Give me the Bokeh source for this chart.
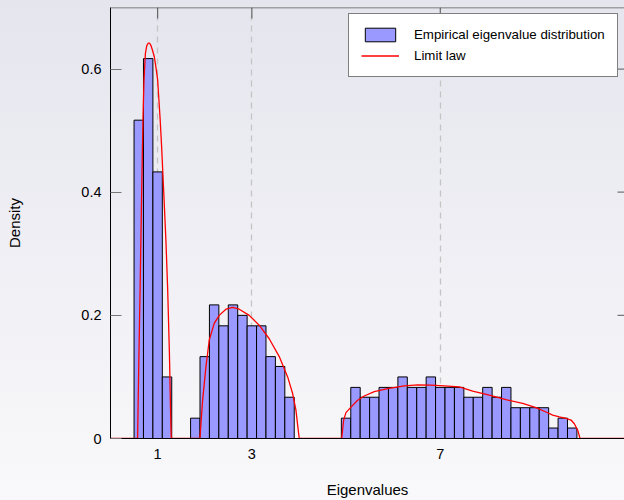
from bokeh.plotting import figure
from bokeh.models import FixedTicker, Legend, LegendItem, ColumnDataSource, Span
from bokeh.embed import file_html
from bokeh.resources import INLINE

# ---- data ----
BIN_WIDTH = 0.2
bar_left = [0.5, 0.7, 0.9, 1.1,
            1.7, 1.9, 2.1, 2.3, 2.5, 2.7, 2.9, 3.1, 3.3, 3.5, 3.7,
            4.9, 5.1, 5.3, 5.5, 5.7, 5.9, 6.1, 6.3, 6.5, 6.7, 6.9, 7.1, 7.3,
            7.5, 7.7, 7.9, 8.1, 8.3, 8.5, 8.7, 8.9, 9.1, 9.3, 9.5, 9.7]
bar_density = [0.517, 0.617, 0.433, 0.100,
               0.033, 0.133, 0.217, 0.183, 0.217, 0.200, 0.183, 0.183, 0.133, 0.117, 0.067,
               0.033, 0.083, 0.067, 0.067, 0.083, 0.083, 0.100, 0.083, 0.083, 0.100, 0.083, 0.083, 0.083,
               0.067, 0.067, 0.083, 0.067, 0.083, 0.050, 0.050, 0.050, 0.050, 0.017, 0.033, 0.017]

limit_x = [0.0,
           0.575, 0.60, 0.63, 0.655, 0.675, 0.69, 0.71, 0.74, 0.77, 0.80, 0.83, 0.86, 0.89,
           0.93, 0.97, 1.00, 1.055, 1.085, 1.13, 1.176, 1.212, 1.25, 1.282, 1.29,
           1.898, 1.92, 1.955, 2.025, 2.096, 2.202, 2.308, 2.45, 2.592, 2.732, 2.945, 3.157,
           3.369, 3.582, 3.76, 3.866, 3.936, 3.975, 4.006,
           4.907, 4.949, 4.998, 5.104, 5.246, 5.386, 5.599, 5.883, 6.236, 6.52, 6.803, 7.085,
           7.403, 7.688, 8.04, 8.395, 8.749, 9.032, 9.244, 9.386, 9.527, 9.669, 9.775, 9.845,
           9.917, 9.966,
           11.0]
limit_y = [0.0,
           0.0, 0.12, 0.25, 0.37, 0.46, 0.52, 0.58, 0.625, 0.638, 0.642, 0.642, 0.638, 0.631,
           0.62, 0.60, 0.583, 0.517, 0.474, 0.40, 0.322, 0.246, 0.14, 0.02, 0.0,
           0.0, 0.024, 0.062, 0.116, 0.16, 0.187, 0.2, 0.21, 0.213, 0.21, 0.2, 0.184,
           0.162, 0.133, 0.1, 0.073, 0.046, 0.02, 0.0,
           0.0, 0.03, 0.042, 0.051, 0.062, 0.069, 0.076, 0.081, 0.0855, 0.087, 0.0867, 0.0855,
           0.084, 0.077, 0.0705, 0.063, 0.057, 0.050, 0.043, 0.038, 0.035, 0.0325, 0.03, 0.024,
           0.0135, 0.0,
           0.0]

x_ticks = [1, 3, 7]
y_ticks = [0, 0.2, 0.4, 0.6]
y_tick_labels = ["0", "0.2", "0.4", "0.6"]

FONT = "Liberation Sans"

# ---- layout constants ----
W, H = 624, 500
BORDER_L, BORDER_R, BORDER_T, BORDER_B = 110, 0, 7, 62
X_MAX, Y_MAX = 10.91, 0.7
FRAME_W = W - BORDER_L - BORDER_R
FRAME_H = H - BORDER_T - BORDER_B
PX_X = FRAME_W / X_MAX
PX_Y = FRAME_H / Y_MAX

bars_src = ColumnDataSource(dict(
    left=bar_left,
    right=[b + BIN_WIDTH for b in bar_left],
    top=bar_density,
))

p = figure(width=W, height=H, x_range=(0, X_MAX), y_range=(0, Y_MAX),
           output_backend="svg", toolbar_location=None,
           min_border_left=BORDER_L, min_border_right=BORDER_R,
           min_border_top=BORDER_T, min_border_bottom=BORDER_B)
p.styles = {"background": "linear-gradient(180deg, #e5e5ee 0%, #f9f9fb 100%)"}
p.background_fill_color = None
p.border_fill_color = None
p.outline_line_color = None

bars = p.quad(left="left", right="right", top="top", bottom=0, source=bars_src,
              fill_color="#9999ff", line_color="black", line_width=1)
curve = p.line(limit_x, limit_y, line_color="#ff0000", line_width=1.3)

# top frame line and inward ticks on top / right
p.add_layout(Span(location=Y_MAX, dimension="width", line_color="#5a5a5a", line_width=1.6))
tick_len_top = 11 / PX_Y
p.segment(x0=x_ticks, y0=[Y_MAX] * len(x_ticks), x1=x_ticks,
          y1=[Y_MAX - tick_len_top] * len(x_ticks), line_color="#666666", line_width=1.2)
tick_len_right = 7 / PX_X
p.segment(x0=[X_MAX - tick_len_right] * len(y_ticks), y0=y_ticks,
          x1=[X_MAX] * len(y_ticks), y1=y_ticks, line_color="#777777", line_width=1.2)

# grid
p.xgrid.ticker = FixedTicker(ticks=x_ticks)
p.xgrid.grid_line_color = "#c4c4c4"
p.xgrid.grid_line_dash = "6 5"
p.xgrid.grid_line_width = 1.3
p.ygrid.visible = False

# bottom axis
xa = p.xaxis[0]
xa.ticker = FixedTicker(ticks=x_ticks)
xa.major_tick_in = 0
xa.major_tick_out = 0
xa.minor_tick_line_color = None
xa.axis_line_color = "black"
xa.major_label_text_font = FONT
xa.major_label_text_font_size = "14.5px"
xa.major_label_text_color = "black"
xa.major_label_standoff = 10
xa.axis_label = "Eigenvalues"
xa.axis_label_text_font = FONT
xa.axis_label_text_font_size = "15px"
xa.axis_label_text_font_style = "normal"
xa.axis_label_text_color = "black"
xa.axis_label_standoff = 19

# left axis
ya = p.yaxis[0]
ya.ticker = FixedTicker(ticks=y_ticks)
ya.major_label_overrides = {t: s for t, s in zip(y_ticks, y_tick_labels)}
ya.major_tick_in = 11
ya.major_tick_out = 0
ya.major_tick_line_color = "#777777"
ya.minor_tick_line_color = None
ya.axis_line_color = "black"
ya.major_label_text_font = FONT
ya.major_label_text_font_size = "14.5px"
ya.major_label_text_color = "black"
ya.major_label_standoff = 9
ya.axis_label = "Density"
ya.axis_label_text_font = FONT
ya.axis_label_text_font_size = "15px"
ya.axis_label_text_font_style = "normal"
ya.axis_label_text_color = "black"
ya.axis_label_standoff = 55

legend = Legend(items=[LegendItem(label="Empirical eigenvalue distribution", renderers=[bars]),
                       LegendItem(label="Limit law", renderers=[curve])],
                location=(238, 361), padding=12, spacing=4,
                glyph_width=38, glyph_height=17, label_height=17, label_standoff=15,
                label_text_font=FONT, label_text_font_size="13.3px", label_text_color="black",
                border_line_color="black", border_line_width=1,
                background_fill_color="white", background_fill_alpha=1)
p.add_layout(legend)

open("out.html", "w").write(file_html(p, INLINE))
